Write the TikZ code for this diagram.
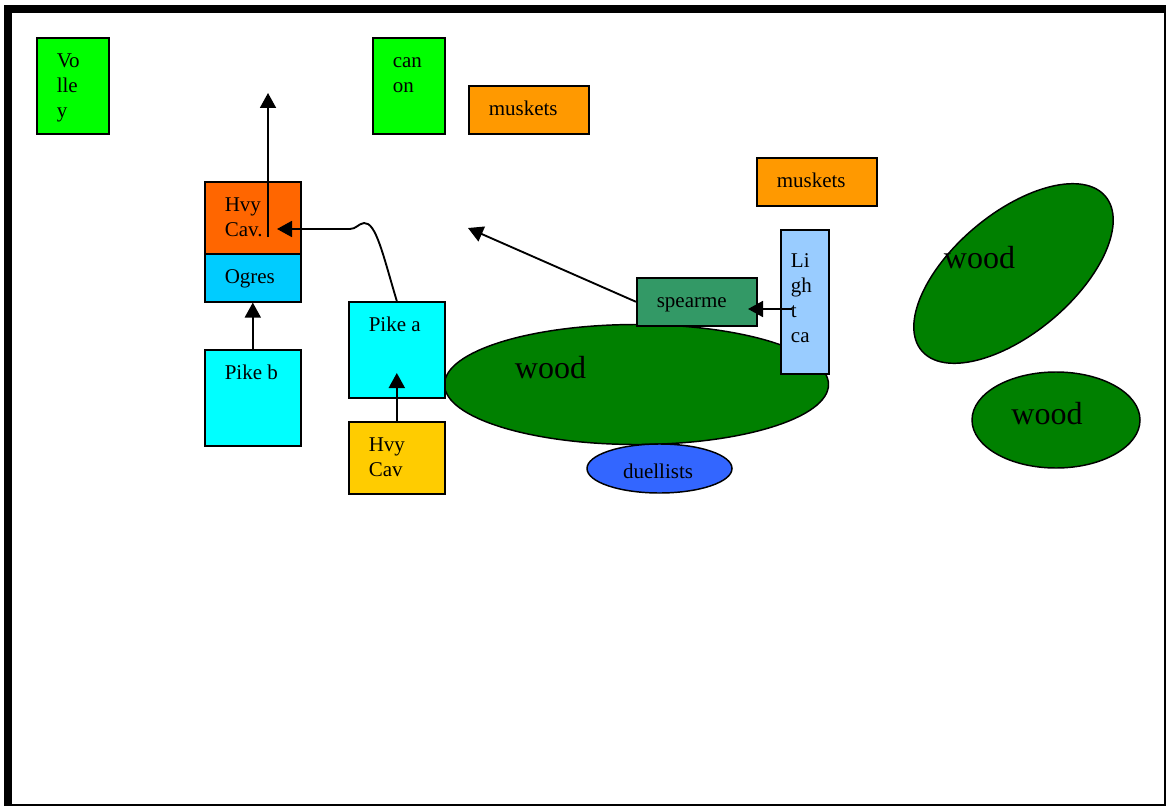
\documentclass[tikz,border=0pt]{standalone}
\usepackage{fontspec}
\setmainfont{Liberation Serif}
\usetikzlibrary{arrows.meta,calc,shapes.geometric}
\def\px{0.75pt}
\definecolor{volleygreen}{HTML}{00FF00}
\definecolor{musketorange}{HTML}{FF9900}
\definecolor{cavorange}{HTML}{FF6600}
\definecolor{ogreblue}{HTML}{00CCFF}
\definecolor{pikecyan}{HTML}{00FFFF}
\definecolor{cavyellow}{HTML}{FFCC00}
\definecolor{woodgreen}{HTML}{008000}
\definecolor{spearteal}{HTML}{339966}
\definecolor{lightblue}{HTML}{99CCFF}
\definecolor{duelblue}{HTML}{3366FF}
\tikzset{
	unit/.style={draw, line width=1.2pt, inner sep=0, anchor=north west},
	wood/.style={ellipse, draw, fill=woodgreen, line width=1.1pt, inner sep=0},
	txt/.style={inner sep=0, anchor=base west, align=left, font=\fontsize{15.75pt}{18.75pt}\selectfont},
	bigtxt/.style={inner sep=0, anchor=base, font=\fontsize{24pt}{28pt}\selectfont},
	conn/.style={line width=1.4pt, -{Triangle[length=11.25pt,width=12pt]}}
}

\begin{document}
\begin{tikzpicture}[x=\px, y=-\px]
			%%%%% START %%%%%
			\useasboundingbox (0,0) rectangle (1166,806);
			\fill[black] (4,5) rectangle (1166,806);
			\fill[white] (12,13) rectangle (1164,804);
			
			% woods
			\node[wood, minimum width=384*\px, minimum height=120*\px] (woodA) at (636.5,384.5) {};
			\node[wood, minimum width=240*\px, minimum height=120*\px, rotate=40] (woodB) at (1013.5,273.5) {};
			\node[wood, minimum width=168*\px, minimum height=96*\px] (woodC) at (1056,420) {};
			\node[bigtxt] (woodAtxt) at (550.5,378) {wood};
			\node[bigtxt] (woodBtxt) at (979.5,268) {wood};
			\node[bigtxt] (woodCtxt) at (1047,424) {wood};
			
			% units
			\node[unit, fill=volleygreen, minimum width=72*\px, minimum height=96*\px] (volley) at (36,37) {};
			\node[unit, fill=volleygreen, minimum width=72*\px, minimum height=96*\px] (canon) at (372,37) {};
			\node[unit, fill=musketorange, minimum width=120*\px, minimum height=48*\px] (musketsA) at (468,85) {};
			\node[unit, fill=musketorange, minimum width=120*\px, minimum height=48*\px] (musketsB) at (756,157) {};
			\node[unit, fill=cavorange, minimum width=96*\px, minimum height=72*\px] (hvycavA) at (204,181) {};
			\node[unit, fill=ogreblue, minimum width=96*\px, minimum height=48*\px] (ogres) at (204,253) {};
			\node[unit, fill=pikecyan, minimum width=96*\px, minimum height=96*\px] (pikeb) at (204,349) {};
			\node[unit, fill=pikecyan, minimum width=96*\px, minimum height=96*\px] (pikea) at (348,301) {};
			\node[unit, fill=cavyellow, minimum width=96*\px, minimum height=72*\px] (hvycavB) at (348,421) {};
			\node[unit, fill=spearteal, minimum width=120*\px, minimum height=48*\px] (spear) at (636,277) {};
			\node[unit, fill=lightblue, minimum width=48*\px, minimum height=144*\px] (light) at (780,229) {};
			\node[ellipse, draw, fill=duelblue, line width=1.1pt, inner sep=0, minimum width=145*\px, minimum height=49*\px] (duel) at (659.5,468.5) {};
			
			% labels: base of the last line
			\node[txt] (volleytxt) at ($(volley.north west)+(20.5,80.5)$) {Vo\\lle\\y};
			\node[txt] (canontxt) at ($(canon.north west)+(20.5,55.5)$) {can\\on};
			\node[txt] (musketsAtxt) at ($(musketsA.north west)+(20.5,30.5)$) {muskets};
			\node[txt] (musketsBtxt) at ($(musketsB.north west)+(20.5,30.5)$) {muskets};
			\node[txt] (hvycavAtxt) at ($(hvycavA.north west)+(20.5,55.5)$) {Hvy\\Cav.};
			\node[txt] (ogrestxt) at ($(ogres.north west)+(20.5,30.5)$) {Ogres};
			\node[txt] (pikebtxt) at ($(pikeb.north west)+(20.5,30.5)$) {Pike b};
			\node[txt] (pikeatxt) at ($(pikea.north west)+(20.5,30.5)$) {Pike a};
			\node[txt] (hvycavBtxt) at ($(hvycavB.north west)+(20.5,55.5)$) {Hvy\\Cav};
			\node[txt] (speartxt) at ($(spear.north west)+(20.5,30.5)$) {spearme};
			\node[txt] (lighttxt) at ($(light.north west)+(10.7,113)$) {Li\\gh\\t\\ca};
			\node[txt, anchor=base] (dueltxt) at (658,478) {duellists};
			
			% moves
			\coordinate (upbase) at (268,237);
			\coordinate (uptip) at (268,93);
			\coordinate (cavtip) at (277,229);
			\coordinate (pikeatip) at ($(hvycavB.north)+(0,-48)$);
			\coordinate (lightfrom) at (792,309);
			\coordinate (speartip) at (748,309);
			\coordinate (spearaim) at (468,228);
			
			\draw[conn] (upbase) -- (uptip);
			\draw[conn] (pikeb) -- (ogres);
			\draw[conn] (hvycavB.north) -- (pikeatip);
			\draw[conn] (pikea.north) .. controls (383,255) and (376,222) .. (364,223) .. controls (358,224) and (356,229) .. (350,229) -- (cavtip);
			\draw[conn] (lightfrom) -- (speartip);
			\draw[conn] (spear.west) -- (spearaim);
			%%%%% END %%%%%
		\end{tikzpicture}
\end{document}
